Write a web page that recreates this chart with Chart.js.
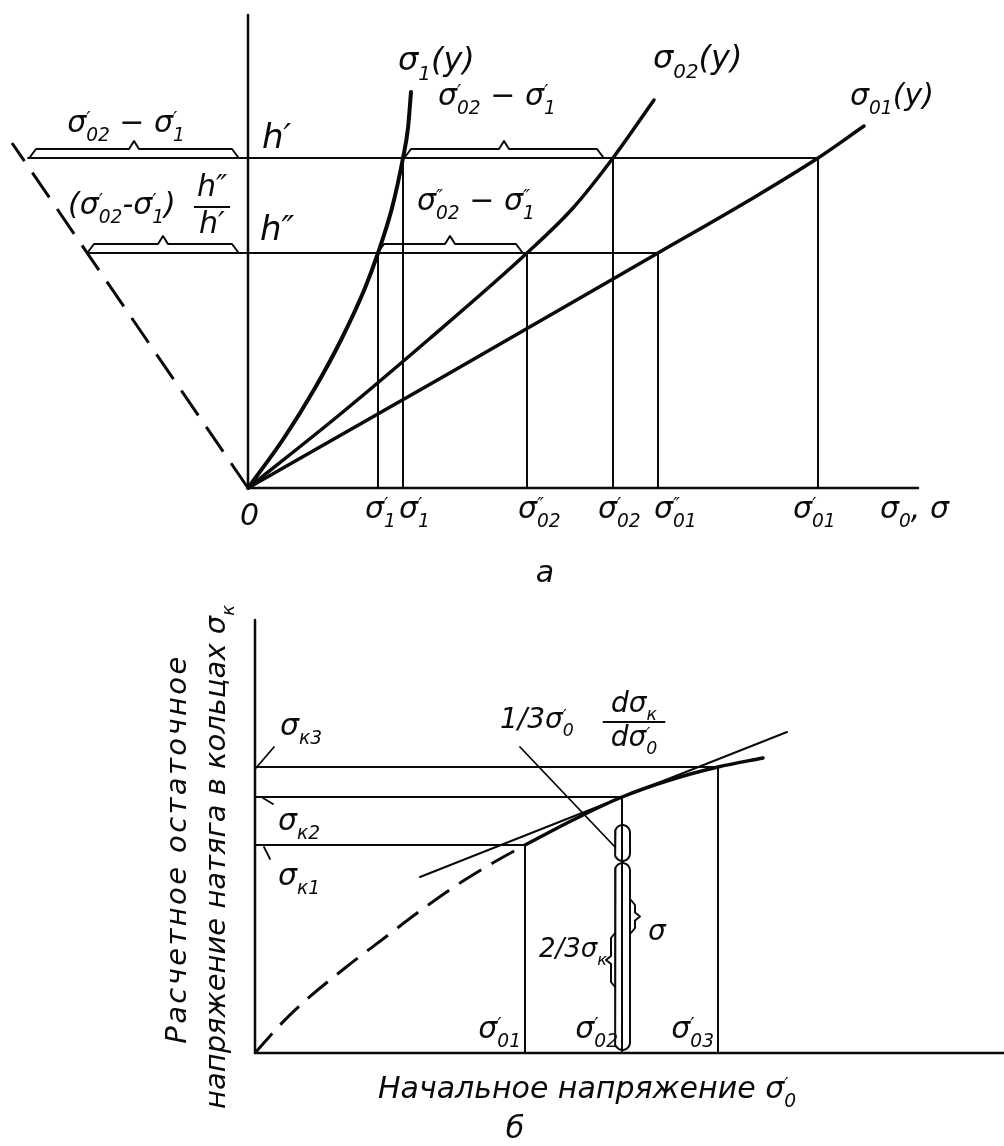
<!DOCTYPE html>
<html><head><meta charset="utf-8">
<script src="https://cdn.jsdelivr.net/npm/chart.js@4.4.1/dist/chart.umd.min.js"></script>
<style>
html,body{margin:0;padding:0;background:#fff;}
#wrap{position:relative;width:1004px;height:1146px;overflow:hidden;background:#fff;}
canvas{position:absolute;left:0;}
#cA{top:0;} #cB{top:590px;}
</style></head><body>
<div id="wrap"><canvas id="cA" width="1004" height="590"></canvas><canvas id="cB" width="1004" height="556"></canvas></div>
<script>
// ================= DATA: panel а (stress vs. height y, arbitrary units) =================
const levelLabels   = ["h′", "h″"];
const levelY        = [33.0, 23.5];          // h′, h″
const levelLeftX    = [-22.0, -16.0];        // meet the dashed construction line
const levelRightX   = [57.0, 41.0];          // meet σ01(y)
const sigma1X  = [0, 3.6, 6.7, 9.4, 11.7, 13.0, 14.4, 15.5, 16.0, 16.3];
const sigma1Y  = [0, 5.0, 10.0, 15.0, 20.0, 23.5, 28.0, 33.0, 36.0, 39.6];
const sigma02X = [0, 9.0, 18.0, 27.9, 32.5, 36.5, 40.6];
const sigma02Y = [0, 7.2, 14.8, 23.5, 28.0, 33.0, 38.8];
const sigma01X = [0, 20.0, 41.0, 50.0, 57.0, 61.6];
const sigma01Y = [0, 11.4, 23.5, 28.7, 33.0, 36.2];
const constructionX = [0, -23.6];
const constructionY = [0, 34.5];
const axisAX = [0, 67.0];
const axisAY = [0, 47.3];
const tickLabelsA = ["σ^{′}_{1}", "σ^{′}_{1}", "σ^{″}_{02}", "σ^{′}_{02}", "σ^{″}_{01}", "σ^{′}_{01}"];
const tickValuesA = [13.0, 15.5, 27.9, 36.5, 41.0, 57.0];
const tickFromYA  = [23.5, 33.0, 23.5, 33.0, 23.5, 33.0];
const braceFromA  = [-21.8, -16.0, 15.7, 13.0];
const braceToA    = [-1.0, -1.0, 35.5, 27.4];
const braceAtA    = [33.0, 23.5, 33.0, 23.5];

// ================= DATA: panel б =================
const ringLabels    = ["σ_{к1}", "σ_{к2}", "σ_{к3}"];
const ringStress    = [20.8, 25.6, 28.6];
const initialLabels = ["σ^{′}_{01}", "σ^{′}_{02}", "σ^{′}_{03}"];
const initialStress = [27.0, 36.7, 46.3];
const curveDashX  = [0, 2.5, 5.1, 9.0, 12.8, 16.5, 20.2, 23.6, 27.0];
const curveDashY  = [0, 2.8, 5.3, 8.5, 11.4, 14.2, 16.8, 18.9, 20.8];
const curveSolidX = [27.0, 32.0, 36.7, 41.5, 46.3, 50.8];
const curveSolidY = [20.8, 23.4, 25.6, 27.3, 28.6, 29.5];
const tangentX = [16.5, 53.2];
const tangentY = [17.6, 32.1];
const leaderX  = [26.5, 36.0];
const leaderY  = [30.6, 20.6];
const barEdgesX = [36.0, 37.5];
const barPartsY = [0.3, 19.0, 19.2, 22.8];   // lower 2/3 part and upper 1/3 part
const axisBX = [0, 74.9];
const axisBY = [0, 43.3];

// ================= helpers =================
const FAM = "'DejaVu Sans', 'Liberation Sans', sans-serif";
const INK = '#0a0a0a';
function pts(xs, ys){ return xs.map((x,i)=>({x, y: ys[i]})); }
function line(xs, ys, w, extra){
  return Object.assign({data: pts(xs,ys), showLine:true, pointRadius:0, borderColor:INK,
    borderWidth:w, fill:false, borderCapStyle:'round', borderJoinStyle:'round'}, extra||{});
}
function braceH(x1, x2, y){
  const m=(x1+x2)/2;
  return line([x1, x1+0.6, m-0.5, m, m+0.5, x2-0.6, x2], [y+0.1, y+0.9, y+0.9, y+1.7, y+0.9, y+0.9, y+0.1], 2, {cubicInterpolationMode:'default', tension:0});
}
function braceV(x0, y1, y2, dir){ // dir +1 points right ("}"), -1 points left ("{")
  const m=(y1+y2)/2, d=dir;
  return line([x0, x0+0.4*d, x0+0.4*d, x0+0.9*d, x0+0.4*d, x0+0.4*d, x0],
              [y1, y1-0.5, m+0.4, m, m-0.4, y2+0.5, y2], 2, {cubicInterpolationMode:'default', tension:0});
}
function capsule(xl, xr, yb, yt){
  const r=(xr-xl)/2, cx=(xl+xr)/2, xs=[], ys=[];
  for(let a=0;a<=180;a+=20){ xs.push(cx + r*Math.cos(Math.PI*a/180)); ys.push(yt - r + r*Math.sin(Math.PI*a/180)); }
  for(let a=180;a<=360;a+=20){ xs.push(cx + r*Math.cos(Math.PI*a/180)); ys.push(yb + r + r*Math.sin(Math.PI*a/180)); }
  xs.push(xs[0]); ys.push(ys[0]);
  return line(xs, ys, 2, {cubicInterpolationMode:'default', tension:0});
}
function parseRich(s){
  const out=[]; let i=0, buf='';
  while(i<s.length){
    const c=s[i];
    if((c==='^'||c==='_') && s[i+1]==='{'){
      if(buf){out.push({t:buf,k:'n'}); buf='';}
      const j=s.indexOf('}', i);
      out.push({t:s.slice(i+2,j), k:c==='^'?'p':'b'});
      i=j+1;
    } else { buf+=c; i++; }
  }
  if(buf) out.push({t:buf,k:'n'});
  return out;
}
function layoutRich(ctx, s, size, ls){
  let x=0, prev=null; const items=[];
  ctx.letterSpacing = (ls||0)+'px';
  for(const tk of parseRich(s)){
    const fs = tk.k==='n' ? size : size*0.62;
    ctx.font = `italic ${fs}px ${FAM}`;
    const w = ctx.measureText(tk.t).width;
    if(tk.k!=='n' && prev && prev.k!==tk.k){
      items.push(Object.assign({}, tk, {fs, x:prev.x0}));
      x = Math.max(prev.x0+prev.w, prev.x0+w); prev=null;
    } else {
      items.push(Object.assign({}, tk, {fs, x}));
      prev = tk.k!=='n' ? {k:tk.k, x0:x, w} : null;
      x += w;
    }
  }
  return {items, width:x};
}
function drawRich(ctx, s, x, y, size, align, ls){
  const L = layoutRich(ctx, s, size, ls);
  const x0 = align==='center' ? x-L.width/2 : align==='right' ? x-L.width : x;
  ctx.textAlign='left'; ctx.textBaseline='alphabetic';
  L.items.forEach(it=>{
    ctx.font = `italic ${it.fs}px ${FAM}`;
    const dy = it.k==='p' ? -size*0.22 : it.k==='b' ? size*0.30 : 0;
    ctx.fillText(it.t, x0+it.x, y+dy);
  });
  ctx.letterSpacing='0px';
}
function drawFrac(ctx, num, den, x, y, size, extraW){
  const a=layoutRich(ctx,num,size).width, b=layoutRich(ctx,den,size).width;
  const w=Math.max(a,b)+(extraW||6);
  drawRich(ctx, num, x, y-size*0.36, size, 'center');
  ctx.beginPath(); ctx.lineWidth=2; ctx.moveTo(x-w/2, y); ctx.lineTo(x+w/2, y); ctx.stroke();
  drawRich(ctx, den, x, y+size*0.86, size, 'center');
}
const richLabels = {
  id:'richLabels',
  afterDatasetsDraw(chart, args, opts){
    const ctx=chart.ctx, sx=chart.scales.x, sy=chart.scales.y;
    (opts.items||[]).forEach(it=>{
      ctx.save();
      ctx.fillStyle=INK; ctx.strokeStyle=INK;
      ctx.translate(sx.getPixelForValue(it.x), sy.getPixelForValue(it.y));
      if(it.rot) ctx.rotate(it.rot);
      if(it.num) drawFrac(ctx, it.num, it.den, 0, 0, it.size, it.extraW);
      else drawRich(ctx, it.text, 0, 0, it.size, it.align||'left', it.ls);
      ctx.restore();
    });
  }
};
function makeChart(id, datasets, xr, yr, items){
  return new Chart(document.getElementById(id), {
    type:'scatter',
    data:{datasets},
    options:{
      responsive:false, animation:false, devicePixelRatio:1,
      layout:{padding:0},
      scales:{ x:{type:'linear', min:xr[0], max:xr[1], display:false},
               y:{type:'linear', min:yr[0], max:yr[1], display:false} },
      plugins:{ legend:{display:false}, tooltip:{enabled:false}, richLabels:{items} },
      elements:{ line:{cubicInterpolationMode:'monotone'} }
    },
    plugins:[richLabels]
  });
}

// ================= Panel а =================
const dsA = [
  line([axisAX[0],axisAX[0]], [0, axisAY[1]], 2.5),
  line(axisAX, [0,0], 2.5),
  line(sigma1X, sigma1Y, 4),
  line(sigma02X, sigma02Y, 3.5),
  line(sigma01X, sigma01Y, 3.5),
  line(constructionX, constructionY, 3, {borderDash:[30,14], borderCapStyle:'butt'})
];
levelY.forEach((y,i)=> dsA.push(line([levelLeftX[i], levelRightX[i]], [y,y], 2)));
tickValuesA.forEach((v,i)=> dsA.push(line([v,v], [tickFromYA[i], 0], 2)));
braceFromA.forEach((x1,i)=> dsA.push(braceH(x1, braceToA[i], braceAtA[i])));

const tickLabelOffsetA = [-1.3, -0.4, -0.9, -1.5, -0.4, -2.5];
const itemsA = [
  {x:-12.2, y:35.6, text:"σ^{′}_{02} − σ^{′}_{1}", size:30, align:'center'},
  {x:1.4, y:34.0, text:levelLabels[0], size:34},
  {x:-18.0, y:27.4, text:"(σ^{′}_{02}-σ^{′}_{1})", size:30},
  {x:-3.6, y:28.1, num:"h″", den:"h′", size:30},
  {x:1.2, y:24.8, text:levelLabels[1], size:34},
  {x:15.0, y:41.8, text:"σ_{1}(y)", size:32},
  {x:19.0, y:38.3, text:"σ^{′}_{02} − σ^{′}_{1}", size:30},
  {x:16.9, y:27.8, text:"σ^{″}_{02} − σ^{″}_{1}", size:30},
  {x:40.5, y:42.0, text:"σ_{02}(y)", size:32},
  {x:60.2, y:38.3, text:"σ_{01}(y)", size:30},
  {x:-0.8, y:-3.7, text:"0", size:30},
  {x:63.2, y:-3.0, text:"σ_{0}, σ", size:30},
  {x:29.7, y:-9.4, text:"а", size:30, align:'center'}
];
tickLabelsA.forEach((t,i)=> itemsA.push({x:tickValuesA[i]+tickLabelOffsetA[i], y:-3.0, text:t, size:30}));
makeChart('cA', dsA, [-24.8, 75.6], [-10.2, 48.8], itemsA);

// ================= Panel б =================
const dsB = [
  line([0,0], axisBY, 2.5),
  line(axisBX, [0,0], 2.5),
  line(curveDashX, curveDashY, 3, {borderDash:[26,12], borderCapStyle:'butt'}),
  line(curveSolidX, curveSolidY, 3.5),
  line(tangentX, tangentY, 2),
  line(leaderX, leaderY, 1.8),
  capsule(barEdgesX[0], barEdgesX[1], barPartsY[0], barPartsY[1]),
  capsule(barEdgesX[0], barEdgesX[1], barPartsY[2], barPartsY[3]),
  braceV(37.6, 15.3, 12.0, 1),
  braceV(36.0, 12.0, 6.6, -1),
  line([0.1, 1.9], [28.5, 30.6], 1.8),
  line([0.8, 1.8], [25.5, 24.9], 1.8),
  line([0.9, 1.5], [20.6, 19.4], 1.8)
];
ringStress.forEach((y,i)=> dsB.push(line([0, initialStress[i]], [y,y], 2)));
initialStress.forEach((x,i)=> dsB.push(line([x,x], [ringStress[i], 0], 2)));

const ringLabelPos = [[2.3,16.8],[2.3,22.3],[2.5,31.8]];
const itemsB = [
  {x:24.5, y:32.5, text:"1/3σ^{′}_{0}", size:28},
  {x:37.9, y:33.1, num:"dσ_{к}", den:"dσ^{′}_{0}", size:28, extraW:16},
  {x:35.2, y:9.6, text:"2/3σ_{к}", size:26, align:'right'},
  {x:39.3, y:11.3, text:"σ", size:28},
  {x:12.3, y:-4.5, text:"Начальное напряжение σ^{′}_{0}", size:30},
  {x:26.0, y:-8.5, text:"б", size:30, align:'center'},
  {x:-6.9, y:20.4, text:"Расчетное остаточное", size:29, align:'center', rot:-Math.PI/2, ls:2.4},
  {x:-3.0, y:19.6, text:"напряжение натяга в кольцах σ_{к}", size:29, align:'center', rot:-Math.PI/2}
];
ringLabels.forEach((t,i)=> itemsB.push({x:ringLabelPos[i][0], y:ringLabelPos[i][1], text:t, size:30}));
initialLabels.forEach((t,i)=> itemsB.push({x:initialStress[i]-0.4, y:1.5, text:t, size:30, align:'right'}));
makeChart('cB', dsB, [-25.5, 74.9], [-9.3, 46.3], itemsB);
</script></body></html>
